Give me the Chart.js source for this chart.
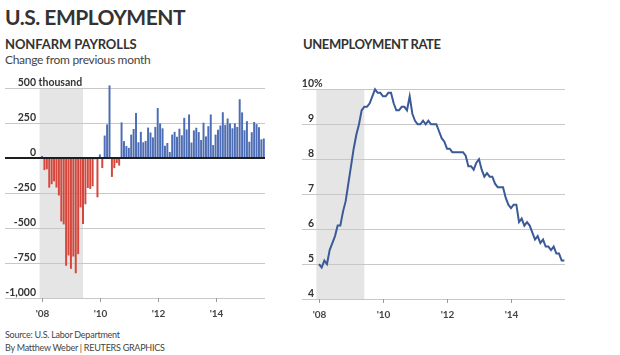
<!DOCTYPE html>
<html>
<head>
<meta charset="utf-8">
<script src="https://cdn.jsdelivr.net/npm/chart.js@4.4.0/dist/chart.umd.min.js"></script>
<style>
html,body{margin:0;padding:0;background:#fff;}
body{width:620px;height:355px;position:relative;overflow:hidden;font-family:Lato,"Open Sans",sans-serif;color:#333;}
canvas{position:absolute;left:0;top:0;}
.t{position:absolute;white-space:nowrap;line-height:1;}
#title{left:5px;top:6px;font-size:21px;font-weight:700;color:#333;letter-spacing:-0.5px;}
#h1{left:5px;top:38px;font-size:13px;font-weight:700;color:#333;letter-spacing:-0.1px;}
#h2{left:303px;top:38px;font-size:13px;font-weight:700;color:#333;letter-spacing:-0.4px;}
#sub{left:5px;top:54px;font-size:12px;color:#444;letter-spacing:-0.3px;}
#src{left:5px;top:330px;font-size:9px;color:#444;letter-spacing:-0.25px;}
#by{left:5px;top:343px;font-size:9px;color:#444;letter-spacing:-0.25px;}
</style>
</head>
<body>
<div class="t" id="title">U.S. EMPLOYMENT</div>
<div class="t" id="h1">NONFARM PAYROLLS</div>
<div class="t" id="sub">Change from previous month</div>
<div class="t" id="h2">UNEMPLOYMENT RATE</div>
<div class="t" id="src">Source: U.S. Labor Department</div>
<div class="t" id="by">By Matthew Weber | REUTERS GRAPHICS</div>
<canvas id="c1" width="620" height="355"></canvas>
<canvas id="c2" width="620" height="355"></canvas>
<script>
// ---- DATA (monthly, Jan 2008 - Sep 2015) ----
const startYear = 2008;
const payrollChange = [
  17, -84, -78, -210, -185, -165, -209, -266, -452, -473, -769, -695,
  -791, -703, -823, -686, -351, -470, -329, -212, -219, -200, -7, -279,
  28, -69, 163, 243, 522, -133, -70, -34, -52, 257, 123, 88,
  75, 170, 210, 325, 115, 190, 115, 125, 220, 185, 150, 225,
  360, 250, 215, 90, 110, 45, 170, 190, 155, 212, 165, 290,
  207, 314, 113, 200, 219, 188, 131, 255, 157, 230, 314, 95,
  170, 205, 235, 330, 240, 285, 250, 215, 250, 225, 423, 329,
  201, 266, 119, 187, 260, 245, 223, 136, 142
];
const unemploymentRate = [
  5.0, 4.9, 5.1, 5.0, 5.4, 5.6, 5.8, 6.1, 6.1, 6.5, 6.8, 7.3,
  7.8, 8.3, 8.7, 9.0, 9.4, 9.5, 9.5, 9.6, 9.8, 10.0, 9.9, 9.9,
  9.8, 9.8, 9.9, 9.9, 9.6, 9.4, 9.4, 9.5, 9.5, 9.4, 9.8, 9.3,
  9.1, 9.0, 9.0, 9.1, 9.0, 9.1, 9.0, 9.0, 9.0, 8.8, 8.6, 8.5,
  8.3, 8.3, 8.2, 8.2, 8.2, 8.2, 8.2, 8.1, 7.8, 7.8, 7.7, 7.9,
  8.0, 7.7, 7.5, 7.6, 7.5, 7.5, 7.3, 7.2, 7.2, 7.2, 6.9, 6.7,
  6.6, 6.7, 6.7, 6.2, 6.3, 6.1, 6.2, 6.1, 5.9, 5.7, 5.8, 5.6,
  5.7, 5.5, 5.5, 5.4, 5.5, 5.3, 5.3, 5.1, 5.1
];
const xTickYears = [2008, 2010, 2012, 2014];
const xTickLabels = ["'08", "'10", "'12", "'14"];
const payrollTicks = [500, 250, 0, -250, -500, -750, -1000];
const payrollTickLabels = ["500", "250", "0", "-250", "-500", "-750", "-1,000"];
const payrollUnit = "thousand";
const rateTicks = [10, 9, 8, 7, 6, 5, 4];
const rateTickLabels = ["10", "9", "8", "7", "6", "5", "4"];
const rateUnit = "%";
const recession = { start: [2007, 12], end: [2009, 6] };

// month index relative to Jan of startYear
const mIdx = (y, m) => (y - startYear) * 12 + (m - 1);

const BLUE = '#4d6db4', RED = '#d5473c', LINE = '#3b5a98', SHADE = '#e5e5e5', GRID = '#c8c8c8';

const decor = {
  id: 'decor',
  beforeDraw(chart, args, o) {
    const {ctx, chartArea: a, scales: {x}} = chart;
    const x0 = x.getPixelForValue(mIdx(recession.start[0], recession.start[1]));
    const x1 = x.getPixelForValue(mIdx(recession.end[0], recession.end[1]));
    ctx.save();
    ctx.fillStyle = SHADE;
    ctx.fillRect(x0, a.top, x1 - x0, a.bottom - a.top);
    ctx.restore();
  },
  afterDraw(chart, args, o) {
    const {ctx, chartArea: a, scales: {x, y}} = chart;
    ctx.save();
    if (o.zeroLine) {
      const zy = Math.round(y.getPixelForValue(0));
      ctx.strokeStyle = '#1e1e1e';
      ctx.lineWidth = 2;
      ctx.beginPath(); ctx.moveTo(a.left, zy); ctx.lineTo(a.right, zy); ctx.stroke();
    }
    ctx.font = 'bold 10.5px Lato';
    ctx.fillStyle = '#333';
    ctx.textBaseline = 'alphabetic';
    o.ticks.forEach((v, i) => {
      const py = y.getPixelForValue(v) - 2.5;
      ctx.textAlign = 'right';
      ctx.fillText(o.labels[i], o.labelRight, py);
      if (i === 0) {
        ctx.textAlign = 'left';
        ctx.fillText((o.unit === '%' ? '' : ' ') + o.unit, o.labelRight, py);
      }
    });
    // x ticks
    ctx.strokeStyle = '#9a9a9a';
    ctx.lineWidth = 1;
    ctx.font = 'bold 10px Lato';
    ctx.fillStyle = '#444';
    ctx.textAlign = 'center';
    xTickYears.forEach((yr, i) => {
      const px = Math.round(x.getPixelForValue(mIdx(yr, 1))) + 0.5;
      ctx.beginPath(); ctx.moveTo(px, a.bottom); ctx.lineTo(px, a.bottom + 4); ctx.stroke();
      ctx.fillText(xTickLabels[i], px, a.bottom + 19);
    });
    ctx.restore();
  }
};

const months = payrollChange.map((_, i) => i);

new Chart(document.getElementById('c1'), {
  type: 'bar',
  data: {
    datasets: [{
      data: payrollChange.map((v, i) => ({x: months[i], y: v})),
      backgroundColor: c => (c.raw && c.raw.y < 0) ? RED : BLUE,
      borderWidth: 0,
      barPercentage: 0.82,
      categoryPercentage: 1,
      clip: false
    }]
  },
  options: {
    responsive: false, animation: false, devicePixelRatio: 1,
    layout: {padding: {left: 5, right: 355, top: 88.5, bottom: 57}},
    plugins: {legend: {display: false}, tooltip: {enabled: false},
      decor: {zeroLine: true, ticks: payrollTicks, labels: payrollTickLabels, unit: payrollUnit, labelRight: 36}},
    scales: {
      x: {type: 'linear', display: false, min: -15.35, max: 92.5, offset: false},
      y: {min: -1000, max: 500, ticks: {display: false, stepSize: 250},
          border: {display: false},
          grid: {color: GRID, lineWidth: 1, drawTicks: false}}
    }
  },
  plugins: [decor]
});

new Chart(document.getElementById('c2'), {
  type: 'line',
  data: {
    datasets: [{
      data: unemploymentRate.map((v, i) => ({x: months[i], y: v})),
      borderColor: LINE, borderWidth: 2, pointRadius: 0, tension: 0, fill: false,
      clip: false
    }]
  },
  options: {
    responsive: false, animation: false, devicePixelRatio: 1,
    layout: {padding: {left: 302, right: 55, top: 89.3, bottom: 56}},
    plugins: {legend: {display: false}, tooltip: {enabled: false},
      decor: {zeroLine: false, ticks: rateTicks, labels: rateTickLabels, unit: rateUnit, labelRight: 314}},
    scales: {
      x: {type: 'linear', display: false, min: -6.375, max: 92.24},
      y: {min: 4, max: 10, ticks: {display: false, stepSize: 1},
          border: {display: false},
          grid: {color: GRID, lineWidth: 1, drawTicks: false}}
    }
  },
  plugins: [decor]
});
</script>
</body>
</html>
